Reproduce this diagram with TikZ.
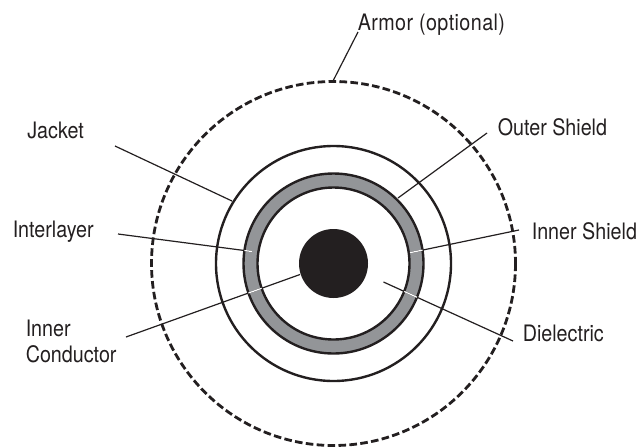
\documentclass[tikz,border=0pt]{standalone}
\usepackage{fontspec}
\setmainfont[FakeStretch=0.87]{TeX Gyre Heros}
\definecolor{ink}{HTML}{231F20}
\definecolor{ringgray}{HTML}{939598}
\tikzset{
  lbl/.style={inner sep=0pt,text=ink,font=\fontsize{17}{20}\selectfont,anchor=base west,align=left},
  ring/.style={draw=ink,line width=1.8pt},
  leader/.style={draw=ink,line width=0.9pt},
  leaderw/.style={draw=white,line width=0.9pt}
}
\begin{document}
\begin{tikzpicture}[x=0.75pt,y=-0.75pt]
\useasboundingbox (0,0) rectangle (638,447);
\coordinate (c) at (333.5,263.5);
% cable cross-section
\draw[ink,line width=2.1pt,dash pattern=on 5.7pt off 2.5pt] (c) circle[radius=182];
\draw[ring] (c) circle[radius=117.5];
\fill[ringgray] (c) circle[radius=90];
\fill[white] (c) circle[radius=76];
\draw[ring] (c) circle[radius=90];
\draw[ring] (c) circle[radius=76];
\fill[ink] (c) circle[radius=34.5];
% labels
\node[lbl] (armor) at (357.5,30) {\addfontfeature{LetterSpace=1.9}Armor (optional)};
\node[lbl] (jacket) at (27,138) {Jacket};
\node[lbl] (inter) at (12.5,237) {Interlayer};
\node[lbl] (innerc) at (25.5,336) {Inner};
\node[lbl] (cond) at (25.5,362) {Conductor};
\node[lbl] (outer) at (497.5,135) {Outer Shield};
\node[lbl] (inner) at (531.5,239) {Inner Shield};
\node[lbl] (diel) at (522.5,341) {Dielectric};
% leader end points
\coordinate (armorA) at (358,32);
\coordinate (armorB) at (333,81);
\coordinate (jacketA) at (115,146);
\coordinate (jacketB) at (232,201);
\coordinate (interA) at (118,234);
\coordinate (interB) at (252,251.5);
\coordinate (innercA) at (126,337);
\coordinate (innercB) at (300,274.5);
\coordinate (outerA) at (487,133);
\coordinate (outerB) at (398,198);
\coordinate (innerA) at (519,230);
\coordinate (innerB) at (410,252.7);
\coordinate (dielA) at (513,341);
\coordinate (dielB) at (383.5,282);
% leaders
\draw[leader] (armorA) -- (armorB);
\draw[leader] (jacketA) -- (jacketB);
\draw[leader] (interA) -- (interB);
\draw[leader] (innercA) -- (innercB);
\draw[leader] (outerA) -- (outerB);
\draw[leader] (innerA) -- (innerB);
\draw[leader] (dielA) -- (dielB);
% white where the leaders cross the gray ring
\begin{scope}[even odd rule]
\clip (c) circle[radius=90] (c) circle[radius=76];
\draw[leaderw] (interA) -- (interB);
\draw[leaderw] (innercA) -- (innercB);
\draw[leaderw] (innerA) -- (innerB);
\draw[leaderw] (dielA) -- (dielB);
\end{scope}
\end{tikzpicture}
\end{document}
